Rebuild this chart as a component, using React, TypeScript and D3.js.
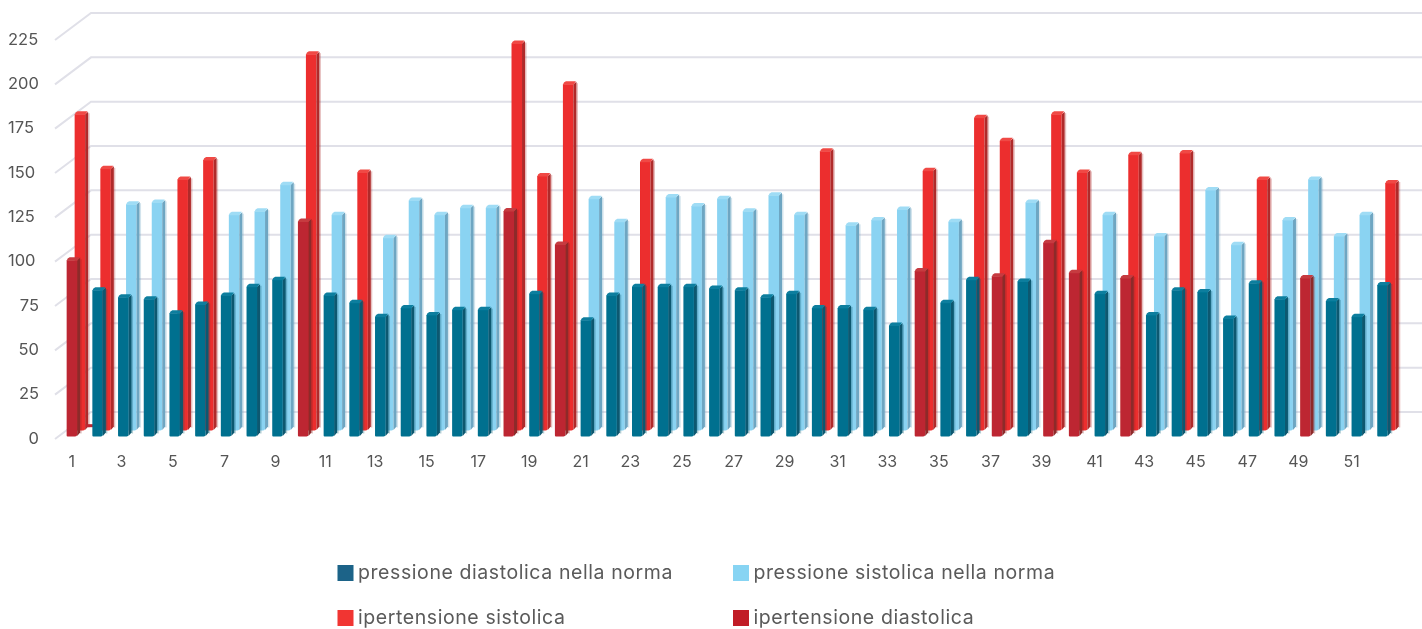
import React from "react";
import * as d3 from "d3";

const categories = d3.range(1, 53);
const diastolicNormal = [0,82,78,77,69,74,79,84,88,0,79,75,67,72,68,71,71,0,80,0,65,79,84,84,84,83,82,78,80,72,72,71,62,0,75,88,0,87,0,0,80,0,68,82,81,66,86,77,0,76,67,85];
const diastolicHigh = [99,0,0,0,0,0,0,0,0,121,0,0,0,0,0,0,0,127,0,108,0,0,0,0,0,0,0,0,0,0,0,0,0,93,0,0,90,0,109,92,0,89,0,0,0,0,0,0,89,0,0,0];
const systolicNormal = [0,0,128,129,0,0,122,124,139,0,122,0,109,130,122,126,126,0,0,0,131,118,0,132,127,131,124,133,122,0,116,119,125,0,118,0,0,129,0,0,122,0,110,0,136,105,0,119,142,110,122,0];
const systolicHigh = [179,148,0,0,142,153,0,0,0,213,0,146,0,0,0,0,0,219,144,196,0,0,152,0,0,0,0,0,0,158,0,0,0,147,0,177,164,0,179,146,0,156,0,157,0,0,142,0,0,0,0,140];
const lowMarkCategory = 2;
const lowMarkValue = 5;
const yTicks = [0,25,50,75,100,125,150,175,200,225];
const xTickLabels = categories.filter((c) => c % 2 === 1);
const legendNames = ["pressione diastolica nella norma","pressione sistolica nella norma","ipertensione sistolica","ipertensione diastolica"];
const legendColors = ["#1a6488","#87d4f3","#f13532","#c11f28"];

const W = 1422, H = 629;
const font = "Inter, 'Noto Sans', sans-serif";
const x = d3.scalePoint<number>().domain(categories).range([73.4, 1384]);
const y = d3.scaleLinear().domain([0, 225]).range([433, 36]);
const wall = d3.scaleLinear().domain([0, 225]).range([412, 13]);
const BAR = 13.5, SIDE = 3, CAP = 3;

type Col = { face: string; side: string; cap: string };
const teal: Col = { face: "#02708f", side: "#0b5870", cap: "#0a7e9e" };
const light: Col = { face: "#8ad3f2", side: "#6ea6c2", cap: "#9fdcf5" };
const red: Col = { face: "#ec2d2d", side: "#b02a2a", cap: "#f04a45" };
const darkRed: Col = { face: "#bd2730", side: "#8d2a2b", cap: "#c63a40" };

function Bar({ cat, v, c, dx, dy, lift }: { cat: number; v: number; c: Col; dx: number; dy: number; lift: number }) {
  if (!v) return null;
  const l = (x(cat) as number) - BAR / 2 + dx;
  const r = l + BAR;
  const top = y(v) + dy + CAP - lift;
  const base = y(0) + 3.5 + dy;
  const area = d3.path();
  area.moveTo(l, top);
  area.lineTo(r - SIDE, top);
  area.lineTo(r - SIDE, base - 2);
  area.quadraticCurveTo(r - SIDE, base, r - SIDE - 2, base);
  area.lineTo(l + 1, base);
  area.quadraticCurveTo(l, base, l, base - 1);
  area.closePath();
  const side = d3.path();
  side.moveTo(r - SIDE, top);
  side.lineTo(r, top - CAP + 0.5);
  side.lineTo(r, base - 4);
  side.lineTo(r - SIDE, base - 0.5);
  side.closePath();
  const cap = d3.path();
  cap.moveTo(l, top + 0.5);
  cap.quadraticCurveTo(l + 0.5, top - CAP + 0.5, l + 3, top - CAP);
  cap.lineTo(r - 0.5, top - CAP);
  cap.lineTo(r - SIDE, top + 0.5);
  cap.closePath();
  return (
    <g>
      <rect x={r} y={top - CAP + 2} width={1.5} height={base - top - 2} fill={c.side} opacity={0.3} />
      <path d={area.toString()} fill={c.face} />
      <path d={side.toString()} fill={c.side} />
      <path d={cap.toString()} fill={c.cap} />
    </g>
  );
}

export default function App() {
  return (
    <svg width={W} height={H} viewBox={`0 0 ${W} ${H}`} style={{ position: "absolute", left: 0, top: 0, background: "#fff" }}>
      <defs>
        <filter id="soft" filterUnits="userSpaceOnUse" x="0" y="0" width={W} height={H}>
          <feGaussianBlur stdDeviation="0.75" />
        </filter>
      </defs>
      <g filter="url(#soft)">
        {yTicks.map((t) => (
          <path key={t} d={`M55,${wall(t) + 27}L91,${wall(t)}H${W}`} fill="none" stroke="#e0e0e8" strokeWidth={2} />
        ))}
        {categories.map((c, i) => (
          <g key={"b" + c}>
            <Bar cat={c} v={systolicNormal[i]} c={light} dx={8} dy={-6} lift={0} />
            <Bar cat={c} v={systolicHigh[i]} c={red} dx={8} dy={-6} lift={0} />
          </g>
        ))}
        <rect x={(x(lowMarkCategory) as number) - 13.5} y={y(lowMarkValue)} width={8} height={3} fill={darkRed.face} />
        {categories.map((c, i) => (
          <g key={"f" + c}>
            <Bar cat={c} v={diastolicNormal[i]} c={teal} dx={0} dy={0} lift={1} />
            <Bar cat={c} v={diastolicHigh[i]} c={darkRed} dx={0} dy={0} lift={1} />
          </g>
        ))}
        {yTicks.map((t) => (
          <text key={t} x={t >= 100 ? 8 : 39} y={wall(t) + 25.5} textAnchor={t >= 100 ? "start" : "end"} dominantBaseline="central"
            fontFamily={font} fontSize={16.5} fill="#555">{t}</text>
        ))}
        {xTickLabels.map((c) => (
          <text key={c} x={(x(c) as number) + 1.5} y={461} textAnchor="end" dominantBaseline="central"
            fontFamily={font} fontSize={16} fill="#555">{c}</text>
        ))}
        {legendNames.map((n, i) => {
          const lx = i % 2 === 0 ? 337.5 : 733;
          const ly = i < 2 ? 565 : 610;
          return (
            <g key={n}>
              <rect x={lx} y={ly} width={16} height={16} fill={legendColors[i]} />
              <text x={lx + 20.5} y={ly + 7} dominantBaseline="central" fontFamily={font} fontSize={19.5} letterSpacing={0.58} fill="#5a5a5a">{n}</text>
            </g>
          );
        })}
      </g>
    </svg>
  );
}
